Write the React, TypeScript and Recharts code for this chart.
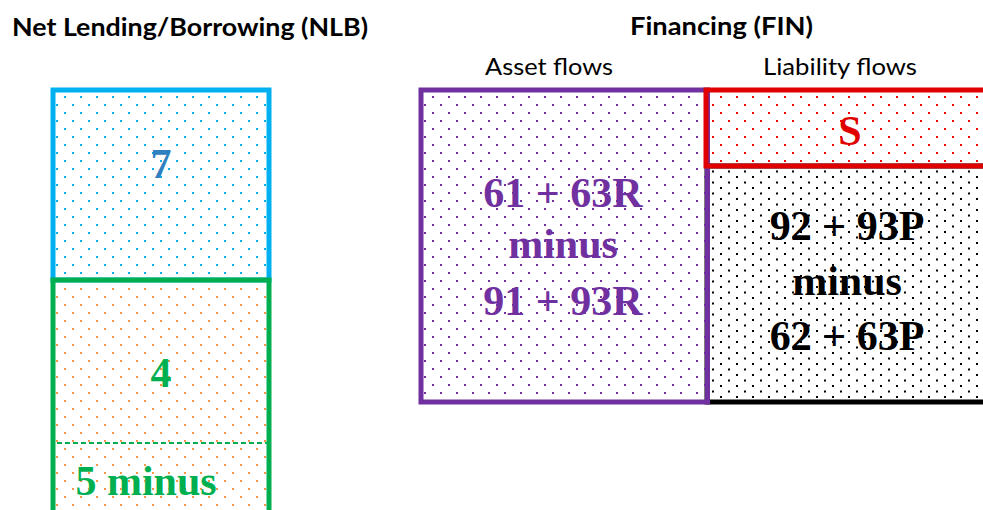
import React from 'react';
import { ComposedChart, XAxis, YAxis, ReferenceArea, ReferenceLine, Scatter } from 'recharts';

// Diagram blocks (diagram units, y grows downward)
const boxIds = ['nlb7', 'nlb45', 'finLiab', 'finAsset', 'finS'];
const boxLeft = [53, 53, 707, 421, 706];
const boxRight = [269, 269, 1000, 707.5, 1000];
const boxTop = [90, 280, 166, 90, 90];
const boxBottom = [280, 514, 402, 402, 166];

// Divider inside the NLB lower block
const dividerFrom = [57, 443];
const dividerTo = [267, 443];

// Texts
const labelTexts = [
  'Net Lending/Borrowing (NLB)',
  'Financing (FIN)',
  'Asset flows',
  'Liability flows',
  '7',
  '4',
  '5 minus',
  '61 + 63R',
  'minus',
  '91 + 93R',
  'S',
  '92 + 93P',
  'minus',
  '62 + 63P',
];
const labelX = [190, 721.5, 549, 840, 161, 161, 146, 563, 563, 563, 850, 847, 847, 847];
const labelY = [36, 35, 75, 75, 178, 387, 495, 207, 258, 315, 145, 240, 295, 350];
const labelKind = ['title', 'title', 'sub', 'sub', 'blue', 'green', 'green', 'purple', 'purple', 'purple', 'red', 'black', 'black', 'black'];
const titleWidths = [356, 183, 128, 154];

const boxStyle: Record<string, { stroke: string; pattern: string }> = {
  nlb7: { stroke: '#00B0F0', pattern: 'pBlue' },
  nlb45: { stroke: '#00B050', pattern: 'pOrange' },
  finLiab: { stroke: '#000000', pattern: 'pBlack' },
  finAsset: { stroke: '#7030A0', pattern: 'pPurple' },
  finS: { stroke: '#E00000', pattern: 'pRed' },
};

const textStyle: Record<string, any> = {
  title: { fill: '#000', fontFamily: 'Lato, "Open Sans", sans-serif', fontWeight: 700, fontSize: 25 },
  sub: { fill: '#000', fontFamily: 'Lato, "Open Sans", sans-serif', fontWeight: 400, fontSize: 24 },
  blue: { fill: '#2E80C0', fontFamily: '"Liberation Serif", serif', fontWeight: 700, fontSize: 42 },
  green: { fill: '#00B050', fontFamily: '"Liberation Serif", serif', fontWeight: 700, fontSize: 42 },
  purple: { fill: '#7030A0', fontFamily: '"Liberation Serif", serif', fontWeight: 700, fontSize: 42 },
  red: { fill: '#E00000', fontFamily: '"Liberation Serif", serif', fontWeight: 700, fontSize: 42 },
  black: { fill: '#000', fontFamily: '"Liberation Serif", serif', fontWeight: 700, fontSize: 42 },
};

const labelData = labelTexts.map((t, i) => ({ x: labelX[i], y: labelY[i], text: t, kind: labelKind[i], idx: i }));

const LabelShape = (props: any) => {
  const { cx, cy, payload } = props;
  if (cx == null || cy == null || !payload) return null;
  const st = textStyle[payload.kind];
  const extra: any = {};
  if (payload.idx < titleWidths.length) {
    extra.textLength = titleWidths[payload.idx];
    extra.lengthAdjust = 'spacingAndGlyphs';
  }
  return (
    <text x={cx} y={cy} textAnchor="middle" {...st} {...extra}>
      {payload.text}
    </text>
  );
};

const Dots = ({ id, color, w, h, s }: { id: string; color: string; w: number; h: number; s: number }) => (
  <pattern id={id} patternUnits="userSpaceOnUse" width={w} height={h}>
    <rect x={0} y={0} width={s} height={s} fill={color} />
    <rect x={w / 2} y={h / 2} width={s} height={s} fill={color} />
  </pattern>
);

export default function App() {
  return (
    <div style={{ position: 'absolute', left: 0, top: 0, width: 983, height: 510, background: '#fff' }}>
      <ComposedChart width={983} height={510} margin={{ top: 0, right: 0, bottom: 0, left: 0 }}>
        <defs>
          <Dots id="pBlue" color="#00B0F0" w={16} h={16} s={2} />
          <Dots id="pOrange" color="#F79646" w={16} h={16} s={2} />
          <Dots id="pPurple" color="#7030A0" w={16} h={16} s={2} />
          <Dots id="pRed" color="#FF0000" w={16} h={16} s={2} />
          <Dots id="pBlack" color="#000000" w={16} h={11} s={2} />
        </defs>
        <XAxis type="number" dataKey="x" domain={[0, 983]} hide allowDataOverflow />
        <YAxis type="number" dataKey="y" domain={[0, 510]} reversed hide allowDataOverflow />
        {boxIds.map((id, i) => (
          <ReferenceArea
            key={id}
            x1={boxLeft[i]}
            x2={boxRight[i]}
            y1={boxTop[i]}
            y2={boxBottom[i]}
            ifOverflow="visible"
            fill={`url(#${boxStyle[id].pattern})`}
            fillOpacity={1}
            stroke={boxStyle[id].stroke}
            strokeWidth={5}
          />
        ))}
        <ReferenceLine
          segment={[
            { x: dividerFrom[0], y: dividerFrom[1] },
            { x: dividerTo[0], y: dividerTo[1] },
          ]}
          stroke="#00B050"
          strokeWidth={2}
          strokeDasharray="5 3"
          ifOverflow="visible"
        />
        <Scatter data={labelData} dataKey="y" shape={<LabelShape />} isAnimationActive={false} />
      </ComposedChart>
    </div>
  );
}
